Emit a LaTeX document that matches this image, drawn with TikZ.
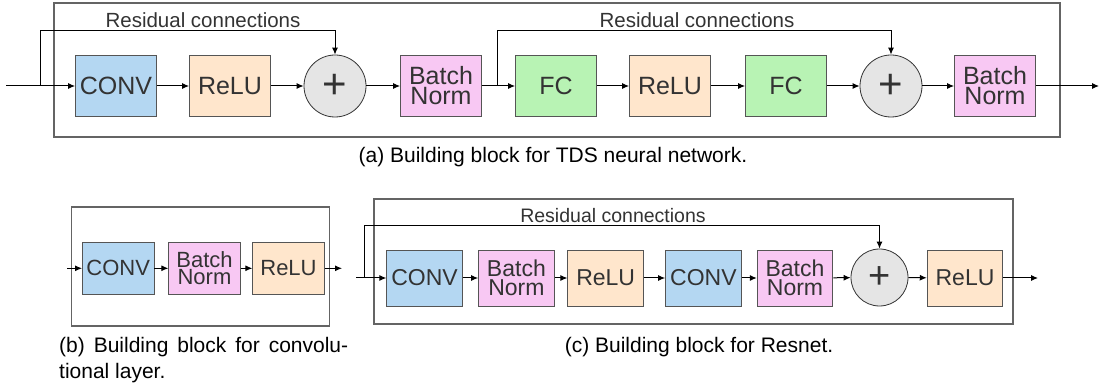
\documentclass[tikz,border=0pt]{standalone}
\usepackage{fontspec}
\setmainfont{Liberation Sans}
\usetikzlibrary{arrows.meta}
\definecolor{cblue}{RGB}{180,215,242}
\definecolor{corange}{RGB}{255,230,204}
\definecolor{cpink}{RGB}{248,200,243}
\definecolor{cgreen}{RGB}{184,243,180}
\definecolor{cgray}{RGB}{229,229,229}
\definecolor{txtgray}{RGB}{51,51,51}
\definecolor{edgegray}{RGB}{85,85,85}
\definecolor{framegray}{RGB}{100,100,100}
\begin{document}
\begin{tikzpicture}[x=1pt,y=-1pt,
  panelframe/.style={draw=framegray,line width=1.1pt},
  blk/.style={draw=edgegray,line width=0.8pt,inner sep=0pt,align=center,text=txtgray},
  blkA/.style={blk,minimum width=81pt,minimum height=61pt,font=\fontsize{25}{20}\selectfont},
  blkB/.style={blk,minimum width=71.5pt,minimum height=52pt,font=\fontsize{22}{17.5}\selectfont},
  blkC/.style={blk,minimum width=75.7pt,minimum height=56pt,font=\fontsize{23}{18.5}\selectfont},
  convfill/.style={fill=cblue},
  relufill/.style={fill=corange},
  bnfill/.style={fill=cpink},
  fcfill/.style={fill=cgreen},
  plusA/.style={circle,draw=txtgray,line width=0.8pt,fill=cgray,inner sep=0pt,minimum size=62pt,text=txtgray,font=\fontsize{42}{42}\selectfont},
  plusC/.style={plusA,minimum size=57pt,font=\fontsize{38}{38}\selectfont},
  arr/.style={draw=black,line width=1pt,-{Latex[length=7pt,width=6pt]}},
  lbl/.style={inner sep=0pt,text=txtgray},
  captxt/.style={inner sep=0pt,text=black,font=\fontsize{21}{26}\selectfont}
]
\useasboundingbox (0,0) rectangle (1103,387);

% ---------------- panel (a) ----------------
\draw[panelframe] (54,3) rectangle (1060,137);
\node[blkA,convfill] (a1) at (116,86) {CONV};
\node[blkA,relufill] (a2) at (230,86) {ReLU};
\node[plusA]         (a3) at (335,86) {+};
\node[blkA,bnfill]   (a4) at (441,86) {Batch\\Norm};
\node[blkA,fcfill]   (a5) at (556,86) {FC};
\node[blkA,relufill] (a6) at (670,86) {ReLU};
\node[blkA,fcfill]   (a7) at (786,86) {FC};
\node[plusA]         (a8) at (891,86) {+};
\node[blkA,bnfill]   (a9) at (995,86) {Batch\\Norm};
\coordinate (ain) at (6,86);
\coordinate (abr1) at (40,86);
\coordinate (atop1) at (40,31);
\coordinate (abr2) at (497,86);
\coordinate (atop2) at (497,31);
\coordinate (aout) at (1099,86);
\draw[arr] (ain) -- (a1);
\draw[arr] (a1) -- (a2);
\draw[arr] (a2) -- (a3);
\draw[arr] (a3) -- (a4);
\draw[arr] (a4) -- (a5);
\draw[arr] (a5) -- (a6);
\draw[arr] (a6) -- (a7);
\draw[arr] (a7) -- (a8);
\draw[arr] (a8) -- (a9);
\draw[arr] (a9) -- (aout);
\draw[arr] (abr1) -- (atop1) -| (a3.north);
\draw[arr] (abr2) -- (atop2) -| (a8.north);
\node[lbl,font=\fontsize{20.5}{24}\selectfont] (ra1) at (203,20) {Residual connections};
\node[lbl,font=\fontsize{20.5}{24}\selectfont] (ra2) at (697,20) {Residual connections};
\node[captxt] (capa) at (553,157) {(a) Building block for TDS neural network.};

% ---------------- panel (b) ----------------
\draw[panelframe] (71.5,207) rectangle (329.5,326);
\node[blkB,convfill] (b1) at (118.2,268.3) {CONV};
\node[blkB,bnfill]   (b2) at (204.5,268.3) {Batch\\Norm};
\node[blkB,relufill] (b3) at (288.5,268.3) {ReLU};
\coordinate (bin) at (67,268.3);
\coordinate (bout) at (342,268.3);
\draw[arr] (bin) -- (b1);
\draw[arr] (b1) -- (b2);
\draw[arr] (b2) -- (b3);
\draw[arr] (b3) -- (bout);
\node[captxt,anchor=north west,text width=289pt,align=justify] (capb) at (59,337)
  {(b) Building block for convolu-\linebreak tional layer.};

% ---------------- panel (c) ----------------
\draw[panelframe] (374,199) rectangle (1013,324);
\node[blkC,convfill] (c1) at (424.6,278) {CONV};
\node[blkC,bnfill]   (c2) at (516.4,278) {Batch\\Norm};
\node[blkC,relufill] (c3) at (605.7,278) {ReLU};
\node[blkC,convfill] (c4) at (703.4,278) {CONV};
\node[blkC,bnfill]   (c5) at (795,278) {Batch\\Norm};
\node[plusC]         (c6) at (879.5,277.5) {+};
\node[blkC,relufill] (c7) at (965,278) {ReLU};
\coordinate (cin) at (356,278);
\coordinate (cbr) at (364,278);
\coordinate (ctop) at (364,226);
\coordinate (cout) at (1038,278);
\draw[arr] (cin) -- (c1);
\draw[arr] (c1) -- (c2);
\draw[arr] (c2) -- (c3);
\draw[arr] (c3) -- (c4);
\draw[arr] (c4) -- (c5);
\draw[arr] (c5) -- (c6);
\draw[arr] (c6) -- (c7);
\draw[arr] (c7) -- (cout);
\draw[arr] (cbr) -- (ctop) -| (c6.north);
\node[lbl,font=\fontsize{19.5}{23}\selectfont] (rc) at (613,216) {Residual connections};
\node[captxt] (capc) at (699,347) {(c) Building block for Resnet.};
\end{tikzpicture}
\end{document}
